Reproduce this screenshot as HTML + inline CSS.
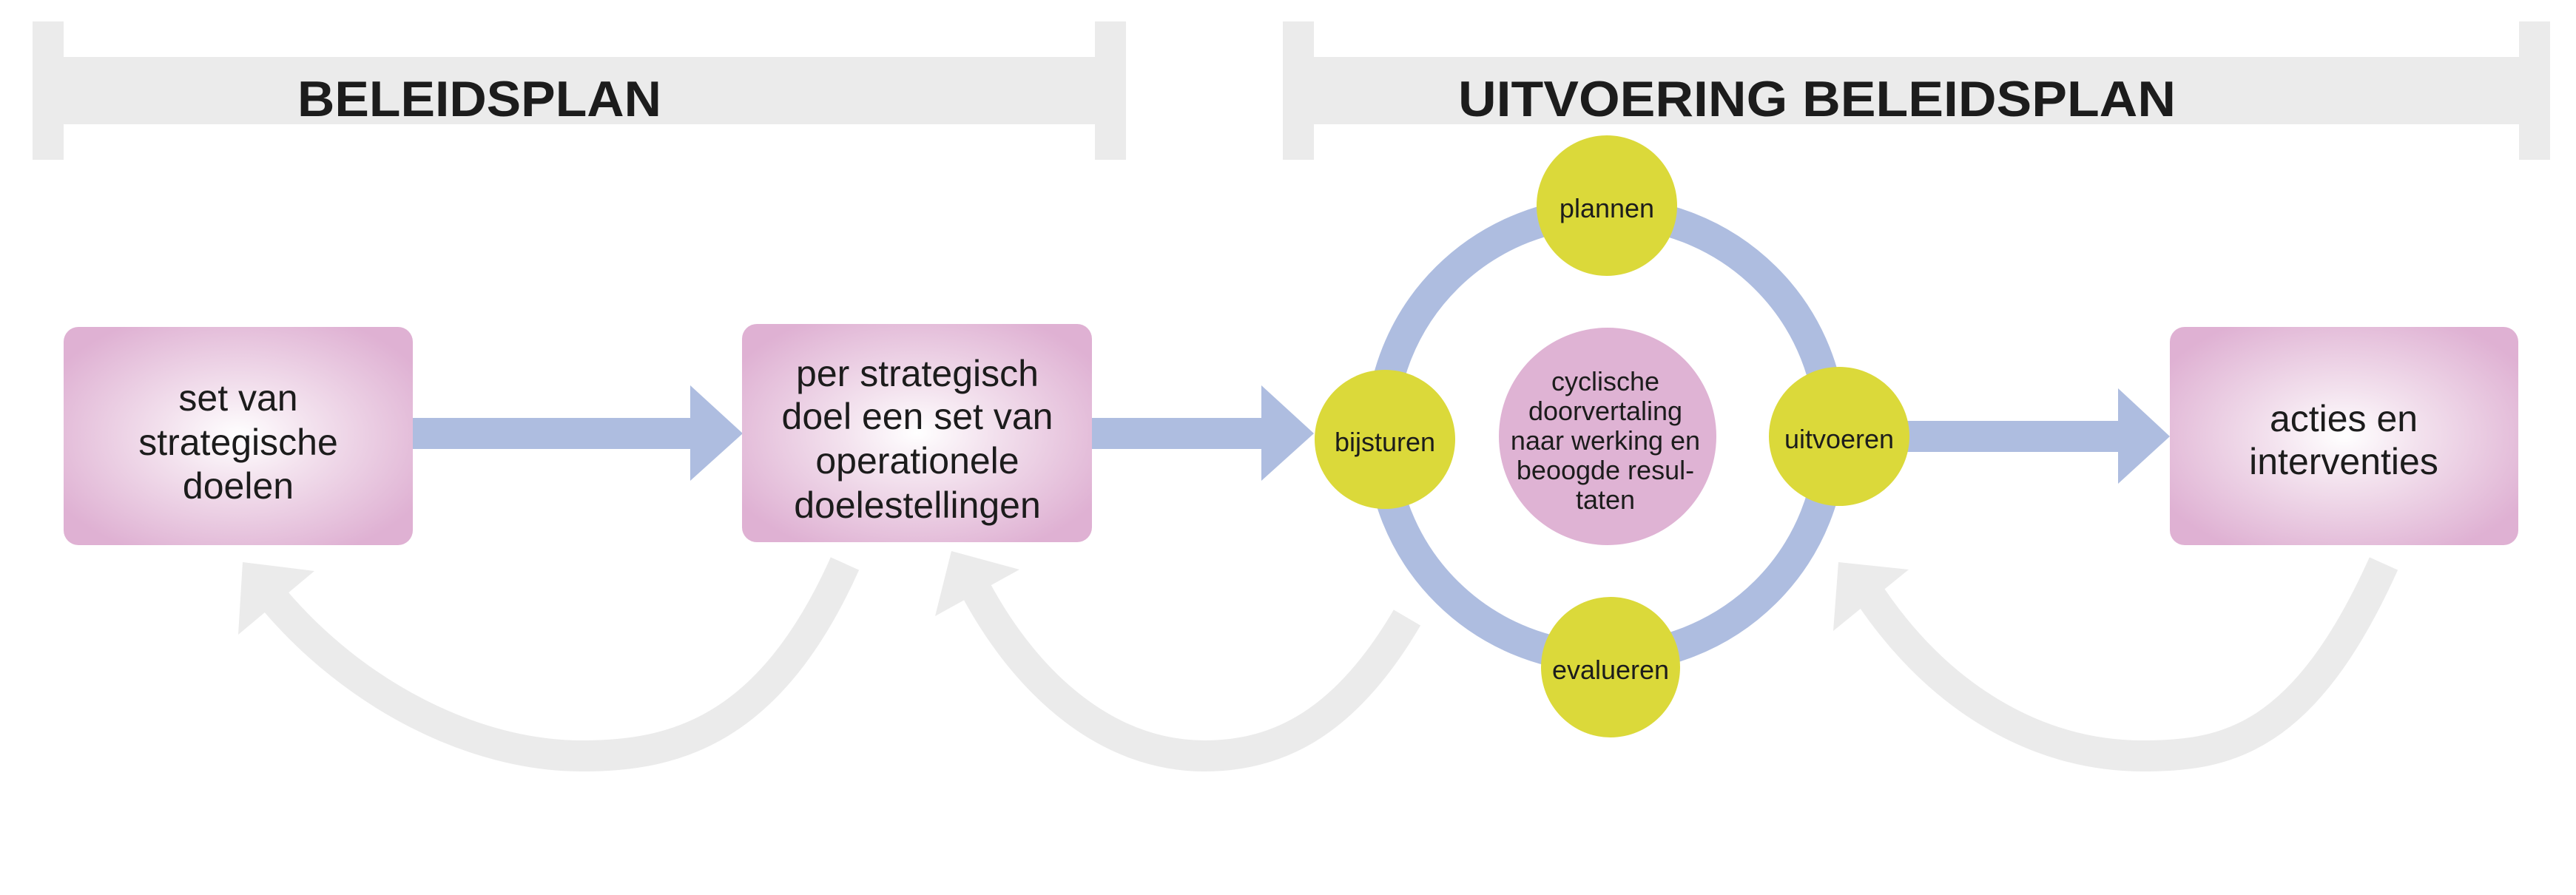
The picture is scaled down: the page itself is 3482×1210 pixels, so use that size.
<!DOCTYPE html>
<html><head><meta charset="utf-8"><style>
html,body{margin:0;padding:0;background:#fff;width:3482px;height:1210px;overflow:hidden}
svg{display:block}
text{font-family:"Liberation Sans",sans-serif;fill:#1c1c1c}
</style></head><body>
<svg width="3482" height="1210" viewBox="0 0 3482 1210" xmlns="http://www.w3.org/2000/svg">
<defs>
<radialGradient id="pg" cx="50%" cy="50%" r="60%">
<stop offset="0" stop-color="#ffffff"/><stop offset="0.35" stop-color="#f3e2ee"/><stop offset="1" stop-color="#dfb1d3"/>
</radialGradient>
</defs>
<!-- brackets -->
<g fill="#ebebeb">
<rect x="44" y="29" width="42" height="187"/><rect x="1480" y="29" width="42" height="187"/><rect x="86" y="77" width="1394" height="91"/>
<rect x="1734" y="29" width="42" height="187"/><rect x="3405" y="29" width="42" height="187"/><rect x="1776" y="77" width="1629" height="91"/>
</g>
<text x="648" y="157" font-size="68" font-weight="bold" text-anchor="middle" textLength="492" lengthAdjust="spacingAndGlyphs">BELEIDSPLAN</text>
<text x="2456" y="157" font-size="68" font-weight="bold" text-anchor="middle" textLength="970" lengthAdjust="spacingAndGlyphs">UITVOERING BELEIDSPLAN</text>
<!-- grey return arrows -->
<g fill="none" stroke="#ebebeb" stroke-width="42">
<path d="M1142 762 C1040 990 910 1022 787 1022 C640 1022 480 940 370 810"/>
<path d="M1902 835 C1820 975 1730 1022 1628 1022 C1500 1022 1390 930 1318 795"/>
<path d="M3222 762 C3115 1000 3010 1022 2897 1022 C2750 1022 2620 940 2530 808"/>
</g>
<g fill="#ebebeb">
<polygon points="328,760 425,772 322,858"/>
<polygon points="1286,745 1378,770 1264,833"/>
<polygon points="2485,760 2580,770 2478,853"/>
</g>
<!-- blue arrows -->
<g fill="#aebde0">
<rect x="556" y="565" width="380" height="42"/><polygon points="933,521 1004,586 933,650"/>
<rect x="1474" y="565" width="234" height="42"/><polygon points="1705,521 1776,586 1705,650"/>
<rect x="2578" y="569" width="288" height="42"/><polygon points="2863,525 2933,590 2863,654"/>
</g>
<!-- ring -->
<ellipse cx="2171" cy="588" rx="304" ry="301" fill="none" stroke="#aebde0" stroke-width="42"/>
<!-- boxes -->
<rect x="86" y="442" width="472" height="295" rx="20" fill="url(#pg)"/>
<rect x="1003" y="438" width="473" height="295" rx="20" fill="url(#pg)"/>
<rect x="2933" y="442" width="471" height="295" rx="20" fill="url(#pg)"/>
<g font-size="50" text-anchor="middle">
<text x="322" y="555">set van</text><text x="322" y="615">strategische</text><text x="322" y="674">doelen</text>
<text x="1240" y="522">per strategisch</text><text x="1240" y="580">doel een set van</text><text x="1240" y="640">operationele</text><text x="1240" y="700">doelestellingen</text>
<text x="3168" y="583">acties en</text><text x="3168" y="641">interventies</text>
</g>
<!-- center -->
<ellipse cx="2173" cy="590" rx="147" ry="147" fill="#dfb3d4"/>
<g font-size="36" text-anchor="middle">
<text x="2170" y="528">cyclische</text><text x="2170" y="568">doorvertaling</text><text x="2170" y="608">naar werking en</text><text x="2170" y="648">beoogde resul-</text><text x="2170" y="688">taten</text>
</g>
<!-- yellow nodes -->
<g fill="#dbd93a">
<ellipse cx="2172" cy="278" rx="95" ry="95"/>
<ellipse cx="1872" cy="594" rx="95" ry="94"/>
<ellipse cx="2486" cy="590" rx="95" ry="94"/>
<ellipse cx="2177" cy="902" rx="94" ry="95"/>
</g>
<g font-size="36" text-anchor="middle">
<text x="2172" y="294">plannen</text>
<text x="1872" y="610">bijsturen</text>
<text x="2486" y="606">uitvoeren</text>
<text x="2177" y="918">evalueren</text>
</g>
</svg>
</body></html>
